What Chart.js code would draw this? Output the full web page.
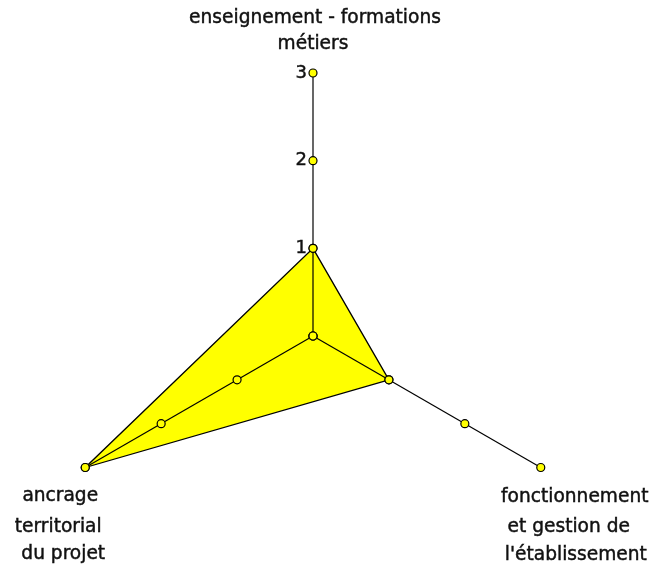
<!DOCTYPE html>
<html><head><meta charset="utf-8">
<script src="https://cdn.jsdelivr.net/npm/chart.js@4"></script>
<style>
html,body{margin:0;padding:0;background:#fff;overflow:hidden;width:653px;height:565px}
#wrap{width:653px;height:565px;overflow:hidden;position:relative}
canvas{position:absolute;left:0;top:0}
</style></head>
<body><div id="wrap"><canvas id="c" width="653" height="610"></canvas></div>
<script>
const categories = [
  ["enseignement - formations", "métiers"],
  ["fonctionnement", "et gestion de", "l'établissement"],
  ["ancrage", "territorial", "du projet"]
];
const scores = [1, 1, 3];
const tickValues = [0, 1, 2, 3];
const tickLabels = ["", "1", "2", "3"];

const FONT = '18.6px "DejaVu Sans"';
const TICKFONT = '18px "DejaVu Sans"';

const markerSets = tickValues.map(v => ({
  label: 'tick ' + v,
  data: categories.map(() => v),
  showLine: false,
  fill: false,
  pointStyle: 'circle',
  pointRadius: 4,
  pointBackgroundColor: '#ffff00',
  pointBorderColor: '#000',
  pointBorderWidth: 1.2,
  order: 0
}));

const areaSet = {
  label: 'score',
  isArea: true,
  data: scores,
  backgroundColor: '#ffff00',
  borderColor: '#000',
  borderWidth: 1.3,
  fill: true,
  pointStyle: 'circle',
  pointRadius: 4,
  pointBackgroundColor: '#ffff00',
  pointBorderColor: '#000',
  pointBorderWidth: 1.2,
  order: 1
};

// per-line label offsets relative to the axis end point
const labelOffsets = [
  [[2, -55], [0, -29]],
  [[34, 30], [28, 60], [35, 88]],
  [[-25, 29], [-27, 60], [-22, 87]]
];

const overlay = {
  id: 'overlay',
  afterDatasetDraw(chart, args) {
    const ds = chart.data.datasets[args.index];
    if (!ds.isArea) return;
    const s = chart.scales.r;
    const ctx = chart.ctx;
    ctx.save();
    ctx.strokeStyle = '#000';
    ctx.lineWidth = 1.2;
    const c = s.getPointPositionForValue(0, 0);
    for (let i = 0; i < categories.length; i++) {
      const p = s.getPointPositionForValue(i, tickValues[tickValues.length - 1]);
      ctx.beginPath();
      ctx.moveTo(c.x, c.y);
      ctx.lineTo(p.x, p.y);
      ctx.stroke();
    }
    ctx.restore();
  },
  afterDraw(chart) {
    const s = chart.scales.r;
    const ctx = chart.ctx;
    ctx.save();
    ctx.fillStyle = '#111';
    ctx.strokeStyle = '#111';
    ctx.lineWidth = 0.45;
    ctx.textBaseline = 'middle';
    ctx.font = TICKFONT;
    ctx.textAlign = 'right';
    tickValues.forEach((v, k) => {
      if (!tickLabels[k]) return;
      const p = s.getPointPositionForValue(0, v);
      ctx.fillText(tickLabels[k], p.x - 6, p.y);
      ctx.strokeText(tickLabels[k], p.x - 6, p.y);
    });
    ctx.font = FONT;
    ctx.textAlign = 'center';
    const maxV = tickValues[tickValues.length - 1];
    categories.forEach((lines, i) => {
      const p = s.getPointPositionForValue(i, maxV);
      lines.forEach((t, j) => {
        const o = labelOffsets[i][j];
        ctx.fillText(t, p.x + o[0], p.y + o[1]);
        ctx.strokeText(t, p.x + o[0], p.y + o[1]);
      });
    });
    ctx.restore();
  }
};

new Chart(document.getElementById('c'), {
  type: 'radar',
  data: {
    labels: categories,
    datasets: [...markerSets, areaSet]
  },
  options: {
    responsive: false,
    animation: false,
    layout: { padding: { left: 50, right: 77, top: 73, bottom: 11 } },
    scales: {
      r: {
        min: 0, max: 3,
        ticks: { display: false, stepSize: 1 },
        grid: { display: false },
        angleLines: { display: false },
        pointLabels: { display: false }
      }
    },
    plugins: { legend: { display: false }, tooltip: { enabled: false } },
    elements: { line: { tension: 0 } }
  },
  plugins: [overlay]
});
</script>
</body></html>
